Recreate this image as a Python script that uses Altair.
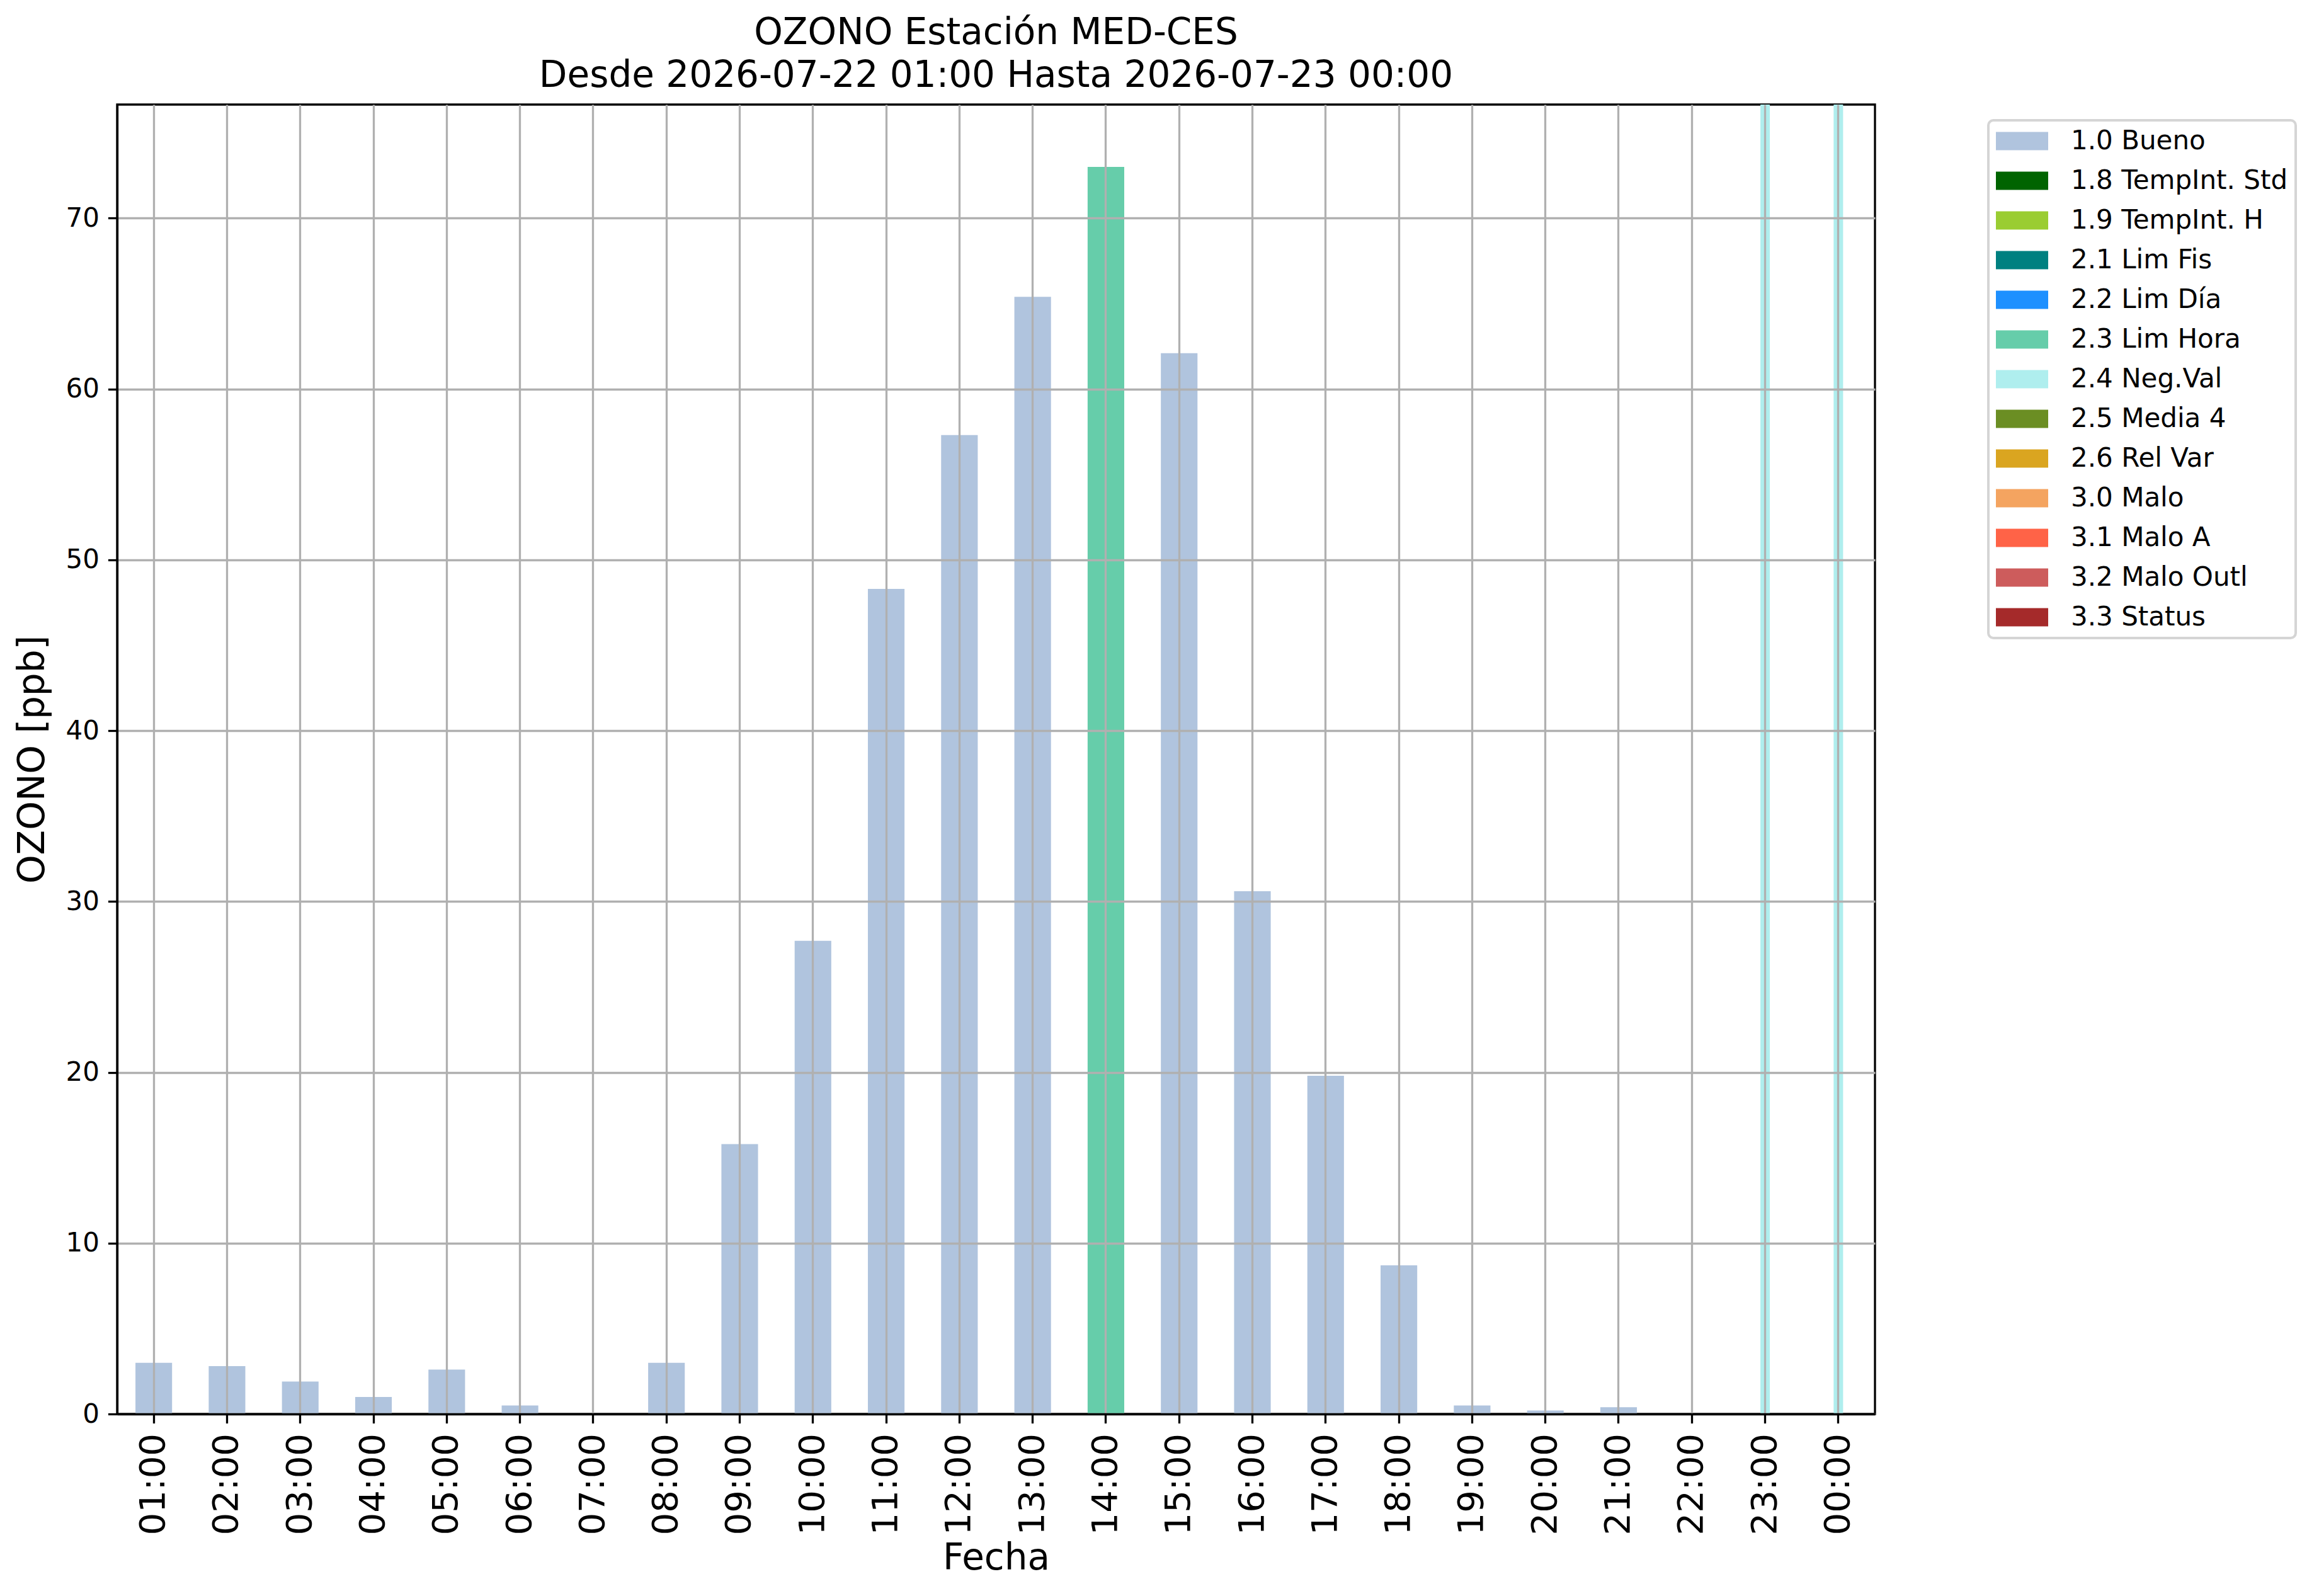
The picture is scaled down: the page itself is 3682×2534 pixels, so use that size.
import altair as alt
import pandas as pd

# ---- data ----
hours = ["01:00", "02:00", "03:00", "04:00", "05:00", "06:00", "07:00", "08:00",
         "09:00", "10:00", "11:00", "12:00", "13:00", "14:00", "15:00", "16:00",
         "17:00", "18:00", "19:00", "20:00", "21:00", "22:00", "23:00", "00:00"]
ozone = [3.0, 2.8, 1.9, 1.0, 2.6, 0.5, 0.0, 3.0,
         15.8, 27.7, 48.3, 57.3, 65.4, 73.0, 62.1, 30.6,
         19.8, 8.7, 0.5, 0.2, 0.4, 0.0, None, None]
flags = (["1.0 Bueno"] * 13 + ["2.3 Lim Hora"] + ["1.0 Bueno"] * 8
         + ["2.4 Neg.Val"] * 2)

flag_labels = ["1.0 Bueno", "1.8 TempInt. Std", "1.9 TempInt. H", "2.1 Lim Fis",
               "2.2 Lim Día", "2.3 Lim Hora", "2.4 Neg.Val", "2.5 Media 4",
               "2.6 Rel Var", "3.0 Malo", "3.1 Malo A", "3.2 Malo Outl", "3.3 Status"]
flag_colors = ["#B0C4DE", "#006400", "#9ACD32", "#008080", "#1E90FF", "#66CDAA",
               "#AFEEEE", "#6B8E23", "#DAA520", "#F4A460", "#FF6347", "#CD5C5C",
               "#A52A2A"]
y_ticks = [0, 10, 20, 30, 40, 50, 60, 70]
Y_MAX = 76.65

title_lines = ["OZONO Estación MED-CES",
               "Desde 2026-07-22 01:00 Hasta 2026-07-23 00:00"]

df = pd.DataFrame({"hora": hours, "ozono": ozone, "flag": flags})

FONT = "DejaVu Sans"
LW = 3.3

x_enc = alt.X(
    "hora:N",
    sort=hours,
    scale=alt.Scale(domain=hours, paddingInner=0.5, paddingOuter=0.25),
    axis=alt.Axis(
        title="Fecha",
        labelAngle=270,
        labelFontSize=56,
        labelPadding=16,
        titleFontSize=58,
        titlePadding=9,
        grid=True,
        bandPosition=0.5,
        zindex=1,
    ),
)

color_enc = alt.Color(
    "flag:N",
    scale=alt.Scale(domain=flag_labels, range=flag_colors),
    legend=alt.Legend(
        title=None,
        orient="none",
        legendX=2971,
        legendY=25,
        symbolType="M-1,-0.35H1V0.35H-1Z",
        symbolSize=6889,
        symbolStrokeWidth=0,
        symbolOpacity=1,
        labelFontSize=42,
        labelOffset=36,
        labelLimit=800,
        clipHeight=42,
        rowPadding=21,
        padding=12,
        strokeColor="#d5d5d5",
        fillColor="white",
        cornerRadius=8,
    ),
)

base = alt.Chart(df)

neg = base.transform_filter(alt.datum.flag == "2.4 Neg.Val").mark_bar(width=15).encode(
    x=x_enc,
    color=color_enc,
)

bars = base.transform_filter(alt.datum.flag != "2.4 Neg.Val").mark_bar().encode(
    x=x_enc,
    y=alt.Y(
        "ozono:Q",
        scale=alt.Scale(domain=[0, Y_MAX], nice=False, zero=True),
        axis=alt.Axis(
            title="OZONO [ppb]",
            values=y_ticks,
            labelFontSize=42,
            labelPadding=14,
            titleFontSize=58,
            titleX=-134,
            titleBaseline="middle",
            grid=True,
            zindex=1,
        ),
    ),
    color=color_enc,
)

chart = alt.layer(neg, bars).properties(
    width=2791,
    height=2079,
    title=alt.TitleParams(
        text=title_lines,
        fontSize=58,
        fontWeight="normal",
        font=FONT,
        anchor="middle",
        frame="group",
        baseline="bottom",
        offset=-42,
        lineHeight=68,
        color="black",
    ),
    autosize=alt.AutoSizeParams(type="none"),
    padding={"left": 178, "top": 158, "right": 690, "bottom": 270},
).configure(
    font=FONT,
    background="white",
).configure_view(
    stroke="black",
    strokeWidth=LW,
).configure_axis(
    labelFont=FONT,
    titleFont=FONT,
    labelColor="black",
    titleColor="black",
    titleFontWeight="normal",
    domainColor="black",
    domainWidth=LW,
    tickColor="black",
    tickWidth=LW,
    tickSize=14.6,
    gridColor="#b0b0b0",
    gridWidth=LW,
    gridOpacity=1,
).configure_legend(
    labelFont=FONT,
    labelColor="black",
    strokeWidth=4,
)

chart.save("out.html", embed_options={"renderer": "svg", "actions": False})
